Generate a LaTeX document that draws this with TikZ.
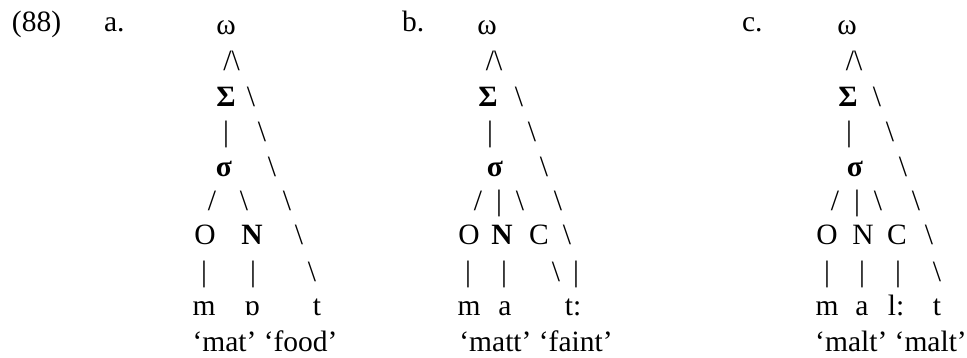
\documentclass[tikz,border=0pt]{standalone}
\usepackage{fontspec}
\setmainfont{Liberation Serif}
\tikzset{
  gl/.style={anchor=base, inner sep=0pt, outer sep=0pt, font=\fontsize{29.5}{34}\selectfont},
  glw/.style={gl, anchor=base west},
  bgl/.style={gl, font=\fontsize{29.5}{34}\selectfont\bfseries},
}
\begin{document}
\begin{tikzpicture}[x=1pt,y=-1pt]
\useasboundingbox (0,0) rectangle (967,358);
% labels
\node[glw] (n88) at (12,32) {(88)};
\node[glw] (la) at (104,32) {a.};
\node[glw] (lb) at (402,32) {b.};
\node[glw] (lc) at (742,32) {c.};
% ---------- tree a ----------
\node[gl] (aw) at (226,35) {ω};
\node[gl] (awv) at (231.5,71) {/\textbackslash};
\node[bgl] (aS) at (226,107) {Σ};
\node[gl] (ab1) at (251,107) {\textbackslash};
\node[gl] (aSs) at (226,142) {|};
\node[gl] (ab2) at (262,142) {\textbackslash};
\node[bgl] (as) at (224,177) {σ};
\node[gl] (ab3) at (272,177) {\textbackslash};
\node[gl] (asO) at (212,211) {/};
\node[gl] (asN) at (244,211) {\textbackslash};
\node[gl] (ab4) at (287,211) {\textbackslash};
\node[gl] (aO) at (205,245) {O};
\node[bgl] (aN) at (252,245) {N};
\node[gl] (ab5) at (299,245) {\textbackslash};
\node[gl] (aOm) at (204,281) {|};
\node[gl] (aNv) at (253,281) {|};
\node[gl] (ab6) at (312,281) {\textbackslash};
\node[gl] (am) at (204,316) {m};
\node[gl] (av) at (252,316) {ɒ};
\node[gl] (at) at (317,316) {t};
\node[gl] (agl) at (265,351) {‘mat’ ‘food’};
% ---------- tree b ----------
\node[gl] (bw) at (487,35) {ω};
\node[gl] (bwv) at (494,71) {/\textbackslash};
\node[bgl] (bS) at (488,107) {Σ};
\node[gl] (bb1) at (519,107) {\textbackslash};
\node[gl] (bSs) at (490,142) {|};
\node[gl] (bb2) at (532,142) {\textbackslash};
\node[bgl] (bs) at (495,177) {σ};
\node[gl] (bb3) at (544,177) {\textbackslash};
\node[gl] (bsO) at (478,211) {/};
\node[gl] (bsN) at (499,211) {|};
\node[gl] (bsC) at (520,211) {\textbackslash};
\node[gl] (bb4) at (558,211) {\textbackslash};
\node[gl] (bO) at (469,245) {O};
\node[bgl] (bN) at (502,245) {N};
\node[gl] (bC) at (539,245) {C};
\node[gl] (bb5) at (567,245) {\textbackslash};
\node[gl] (bOm) at (468,281) {|};
\node[gl] (bNa) at (504,281) {|};
\node[gl] (bCt) at (556,281) {\textbackslash};
\node[gl] (bb6) at (576,281) {|};
\node[gl] (bm) at (469,316) {m};
\node[gl] (ba) at (505,316) {a};
\node[gl] (bt) at (573,316) {t:};
\node[gl] (bgl) at (536,351) {‘matt’ ‘faint’};
% ---------- tree c ----------
\node[gl] (cw) at (847,35) {ω};
\node[gl] (cwv) at (854,71) {/\textbackslash};
\node[bgl] (cS) at (848,107) {Σ};
\node[gl] (cb1) at (877,107) {\textbackslash};
\node[gl] (cSs) at (849,142) {|};
\node[gl] (cb2) at (890,142) {\textbackslash};
\node[bgl] (cs) at (855,177) {σ};
\node[gl] (cb3) at (903,177) {\textbackslash};
\node[gl] (csO) at (835,211) {/};
\node[gl] (csN) at (857,211) {|};
\node[gl] (csC) at (878,211) {\textbackslash};
\node[gl] (cb4) at (916,211) {\textbackslash};
\node[gl] (cO) at (827,245) {O};
\node[gl] (cN) at (863,245) {N};
\node[gl] (cC) at (897,245) {C};
\node[gl] (cb5) at (929,245) {\textbackslash};
\node[gl] (cOm) at (827,281) {|};
\node[gl] (cNa) at (862,281) {|};
\node[gl] (cCl) at (898,281) {|};
\node[gl] (cb6) at (937,281) {\textbackslash};
\node[gl] (cm) at (827,316) {m};
\node[gl] (ca) at (862,316) {a};
\node[gl] (cl) at (896,316) {l:};
\node[gl] (ct) at (937,316) {t};
\node[gl] (cgl) at (891,351) {‘malt’ ‘malt’};
\end{tikzpicture}
\end{document}
